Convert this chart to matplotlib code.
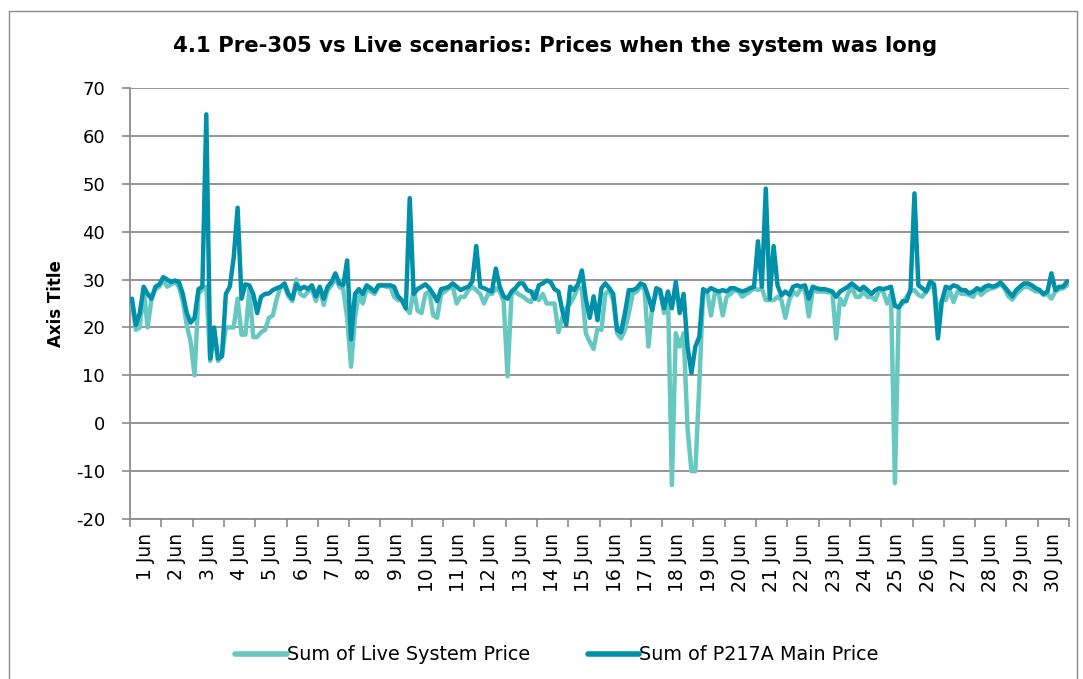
import matplotlib
matplotlib.use("Agg")
import matplotlib.pyplot as plt
from matplotlib.patches import Rectangle
import numpy as np

plt.rcParams['font.family'] = ['DejaVu Sans']

title = "4.1 Pre-305 vs Live scenarios: Prices when the system was long"
y_label = "Axis Title"
series_names = ["Sum of Live System Price", "Sum of P217A Main Price"]
day_labels = [f"{d} Jun" for d in range(1, 31)]
y_ticks = [-20, -10, 0, 10, 20, 30, 40, 50, 60, 70]
points_per_day = 8

# Sum of Live System Price, 8 readings per day (1..30 Jun)
live_price = [
    25, 19.5, 20, 28, 20, 26, 28, 28.5,
    30, 28.5, 29, 29.5, 28.5, 25.5, 20.5, 17,
    10, 27, 28, 28.5, 13, 18.5, 13, 14,
    20, 20, 20, 26, 18.5, 18.5, 28, 18,
    18, 19, 19.5, 22, 22.5, 26, 28.5, 28.5,
    26.5, 25.5, 30, 27, 26.5, 27.5, 28, 25.5,
    28.2, 24.7, 27.8, 28.8, 30.3, 28.5, 28, 22,
    11.8, 22, 27, 25, 28.2, 27.5, 27, 28.5,
    28.8, 28.5, 28.5, 26.4, 25.7, 25.7, 24, 23,
    28, 23.5, 23, 27, 27.5, 22.5, 22, 27,
    27.5, 28.2, 28.5, 25, 26.4, 26.4, 27.8, 28.5,
    27.8, 27, 25, 27, 27, 28.2, 27.5, 25.5,
    9.8, 27, 27.5, 26.8, 26.4, 25.7, 25.3, 27.5,
    25.7, 27, 25, 25, 25, 19, 22, 24,
    25, 26.4, 28.5, 28, 18.8, 17, 15.5, 19.8,
    19.5, 27, 27.8, 25.7, 18.8, 17.7, 19.5, 23,
    27, 27.5, 28.5, 28.2, 16, 24.5, 27, 27.5,
    23, 27, -12.9, 18.8, 16, 18.8, -1, -10,
    -10, 8, 27.5, 27.5, 22.5, 27.3, 27, 22.5,
    26.4, 27, 27.8, 27.5, 26.4, 27, 27.5, 28.2,
    27.8, 28.2, 25.7, 25.7, 25.7, 26.4, 25.7, 22,
    25.7, 27.5, 26.8, 28.2, 27.8, 22.3, 27.8, 27.5,
    27.5, 27.5, 27.3, 27.5, 17.7, 26, 24.7, 27,
    28.5, 26.4, 26.4, 27.5, 26.4, 26.4, 25.7, 27.8,
    27.5, 25, 27, -12.5, 24.3, 25, 26.4, 27.5,
    27.8, 26.8, 26.4, 27.5, 28.5, 28.5, 23, 25.7,
    25.7, 27.8, 25.3, 27.5, 27, 27, 26.8, 26.4,
    27.8, 26.8, 27.5, 28, 28.2, 28.5, 29, 28.2,
    26.5, 25.8, 27, 27.8, 28.5, 28.5, 28, 27.5,
    27.5, 26.8, 27, 26, 27.5, 28, 28.2, 28.8,
]

# Sum of P217A Main Price, 8 readings per day (1..30 Jun)
p217a_price = [
    26, 20.5, 23, 28.5, 27, 26, 28.5, 29,
    30.5, 30, 29.5, 29.8, 29.5, 27, 23, 21,
    22, 28, 28.5, 64.5, 13.5, 20, 13.5, 14,
    27, 28.5, 34.5, 45, 26, 29, 28.8, 27,
    23, 26.4, 27, 27.1, 27.8, 28.2, 28.5, 29.2,
    27, 26, 29, 28, 28.5, 28, 28.8, 26.5,
    28.5, 26, 28.5, 29.5, 31.3, 29.2, 28.8, 34,
    17.5, 27, 28, 27, 28.8, 28.2, 27.5, 28.8,
    28.8, 28.8, 28.8, 28.5, 26.5, 25.7, 24, 47,
    27, 28, 28.5, 29, 28.2, 27, 25.5, 28,
    28.2, 28.5, 29.2, 28.5, 27.8, 28.2, 28.5, 29.6,
    37, 28.5, 28.2, 27.8, 27.5, 32.3, 28.5, 26.5,
    26, 27.5, 28.2, 29.2, 29.2, 27.8, 27.5, 26,
    28.8, 29.2, 29.8, 29.5, 28, 27.5, 23.5, 20.5,
    28.5, 27.8, 29, 31.9, 26, 22, 26.5, 21.5,
    28.2, 29.2, 28.2, 27, 19.5, 19, 23, 27.8,
    27.8, 28.2, 29.2, 28.8, 26.4, 23.6, 28.2, 27.8,
    24, 27.5, 24, 29.5, 23, 27, 16, 10.5,
    16, 18, 28, 27.5, 28.2, 27.8, 27.5, 27.8,
    27.5, 28.2, 28.2, 27.8, 27.5, 27.8, 28.2, 28.5,
    38, 28.5, 49, 26, 37, 28.8, 26.7, 27.5,
    26.8, 28.5, 28.8, 28.5, 28.8, 26, 28.5, 28.2,
    28, 28, 27.8, 27.5, 26.4, 27.5, 28, 28.5,
    29.2, 28.5, 27.8, 28.5, 27.8, 27, 27.8, 28.2,
    28, 28.2, 28.5, 24.5, 24.2, 25.5, 25.5, 28,
    48, 28.8, 28.2, 27.5, 29.6, 29, 17.7, 25.5,
    28.5, 28.2, 28.8, 28.5, 27.8, 27.8, 27.1, 27.5,
    28.2, 27.8, 28.5, 28.8, 28.5, 28.8, 29.4, 28.5,
    27.5, 26.5, 27.8, 28.5, 29.2, 29.2, 28.8, 28.2,
    27.8, 27, 27.5, 31.3, 27.8, 28.5, 28.5, 29.6,
]

light_col = '#66c8c1'
dark_col = '#0090aa'
grid_col = '#8c8c8c'

W, H = 1083, 679
fig = plt.figure(figsize=(W / 100, H / 100), dpi=100)
fig.patch.set_facecolor('white')

# outer chart border
fig.add_artist(Rectangle((9 / W, -0.05), (1077 - 9) / W, 1 - 11 / H + 0.05,
                         transform=fig.transFigure, fill=False,
                         edgecolor='#8a8a8a', linewidth=1.0))

ax = fig.add_axes([130 / W, 1 - 519 / H, (1069 - 130) / W, (519 - 88) / H])

x = (np.arange(len(live_price)) + 0.5) / points_per_day
ax.plot(x, live_price, color=light_col, lw=3.2, solid_joinstyle='round',
        solid_capstyle='round', label=series_names[0], zorder=3)
ax.plot(x, p217a_price, color=dark_col, lw=3.2, solid_joinstyle='round',
        solid_capstyle='round', label=series_names[1], zorder=4)

ax.set_xlim(0, 30)
ax.set_ylim(-20, 70)
ax.set_yticks(y_ticks)
ax.set_yticklabels([str(v) for v in y_ticks], fontsize=13)
ax.yaxis.grid(True, color=grid_col, linewidth=1.3)
ax.set_axisbelow(True)

ax.set_xticks(np.arange(0, 31))
ax.set_xticklabels([''] * 31)
ax.set_xticks(np.arange(30) + 0.5, minor=True)
ax.set_xticklabels(day_labels, minor=True, rotation=90, fontsize=13.5)
ax.tick_params(axis='x', which='minor', length=0, pad=10)
ax.tick_params(axis='x', which='major', length=6, width=1.2, color=grid_col, direction='out')
ax.tick_params(axis='y', length=6, width=1.2, color=grid_col, direction='out', pad=12)

for s in ['top', 'right']:
    ax.spines[s].set_visible(False)
for s in ['left', 'bottom']:
    ax.spines[s].set_color(grid_col)
    ax.spines[s].set_linewidth(1.3)

ax.set_ylabel(y_label, fontsize=12, fontweight='bold', labelpad=8)

fig.text(555 / W, 1 - 46 / H, title, ha='center', va='center',
         fontsize=15.3, fontweight='bold')

leg = fig.legend(loc='center', bbox_to_anchor=(557 / W, 1 - 655 / H), ncol=2,
                 frameon=False, fontsize=13.8, handlelength=2.7, handletextpad=0.0,
                 columnspacing=3.0)
for line in leg.get_lines():
    line.set_linewidth(4)

fig.savefig('out.png', dpi=100)
